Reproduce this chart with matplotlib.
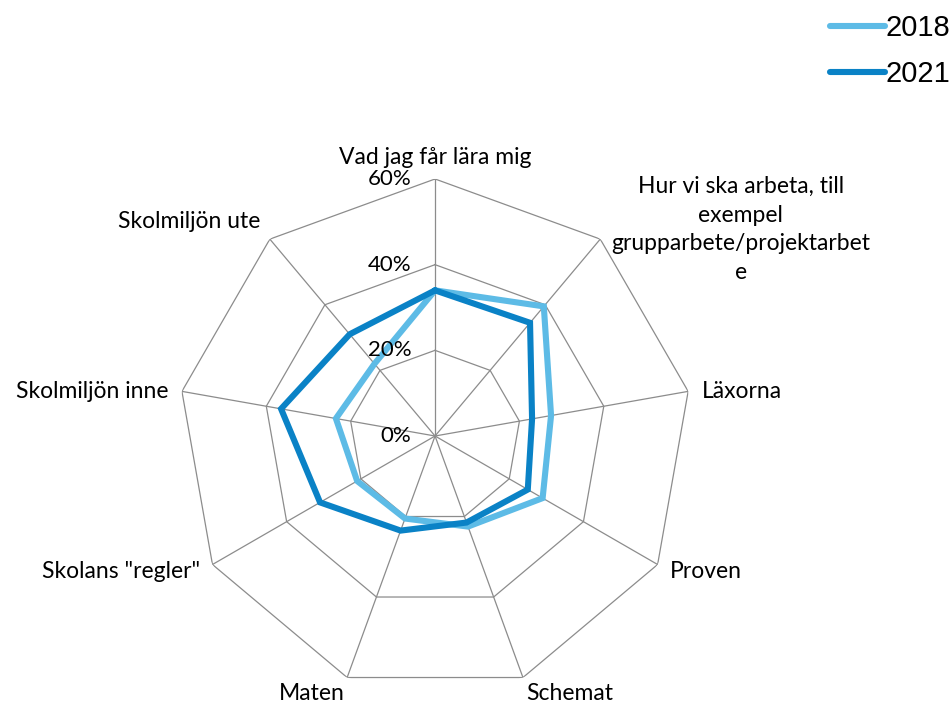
import numpy as np
import matplotlib
matplotlib.use("Agg")
import matplotlib.pyplot as plt

# Categories clockwise from the top
categories = [
    "Vad jag får lära mig",
    "Hur vi ska arbeta, till\nexempel\ngrupparbete/projektarbet\ne",
    "Läxorna",
    "Proven",
    "Schemat",
    "Maten",
    'Skolans "regler"',
    "Skolmiljön inne",
    "Skolmiljön ute",
]
values_2018 = [34, 39.5, 27.5, 29, 22.5, 20.5, 21, 23.5, 22]
values_2021 = [34, 34.5, 23, 25, 21.5, 23.5, 31, 36.5, 31]
ring_ticks = [0, 20, 40, 60]
ring_labels = ["0%", "20%", "40%", "60%"]
series_names = ["2018", "2021"]

light_blue = "#5dbbe6"
dark_blue = "#0a82c6"
grid_gray = "#8c8c8c"

plt.rcParams["font.family"] = ["Lato", "DejaVu Sans"]

fig = plt.figure(figsize=(9.53, 7.03), dpi=100)
ax = fig.add_axes([0.1868, 0.0142, 0.5394, 0.7312], projection="polar")
ax.set_theta_zero_location("N")
ax.set_theta_direction(-1)
ax.set_ylim(0, 60)
ax.grid(False)
ax.set_xticks([])
ax.set_yticks([])
ax.spines["polar"].set_visible(False)

n = len(categories)
angles = np.linspace(0, 2 * np.pi, n, endpoint=False)
closed = np.append(angles, angles[0])

# polygon grid
for r in ring_ticks[1:]:
    ax.plot(closed, [r] * (n + 1), color=grid_gray, lw=0.9, zorder=1)
for a in angles:
    ax.plot([a, a], [0, 60], color=grid_gray, lw=0.9, zorder=1)

# series
for vals, col, name in [(values_2018, light_blue, series_names[0]),
                        (values_2021, dark_blue, series_names[1])]:
    ax.plot(closed, vals + vals[:1], color=col, lw=4.4, label=name,
            solid_joinstyle="miter", solid_capstyle="round", zorder=3)

# radial tick labels
for r, lab in zip(ring_ticks, ring_labels):
    ax.annotate(lab, xy=(0, r), xytext=(-17, 0), textcoords="offset points",
                ha="right", va="center", fontsize=16)

# category labels
label_pos = [
    ((0, 8), "center", "bottom"),
    ((8, 7), "left", "center"),
    ((10, 0), "left", "center"),
    ((9, -5), "left", "center"),
    ((2, -4), "left", "top"),
    ((-2, -4), "right", "top"),
    ((-9, -5), "right", "center"),
    ((-10, 0), "right", "center"),
    ((-7, 5), "right", "bottom"),
]
for a, lab, (off, ha, va) in zip(angles, categories, label_pos):
    ax.annotate(lab, xy=(a, 60), xytext=off, textcoords="offset points",
                ha=ha, va=va, fontsize=16.5, multialignment="center",
                linespacing=1.45)

fig.legend(loc="upper right", bbox_to_anchor=(1.009, 0.996), frameon=False,
           handlelength=1.9, handletextpad=0.0,
           labelspacing=0.6, borderaxespad=0.0,
           prop={"family": ["Liberation Sans"], "size": 21})
for line in fig.legends[0].get_lines():
    line.set_linewidth(4.4)
    line.set_solid_capstyle("round")

fig.savefig("out.png", dpi=100)
